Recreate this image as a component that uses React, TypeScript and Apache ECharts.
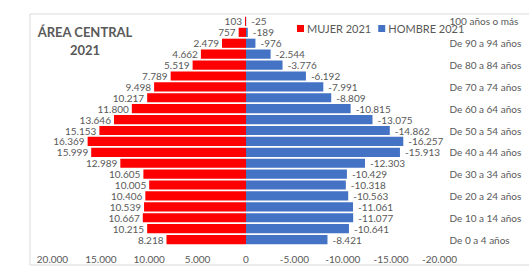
import React, { useEffect, useRef } from "react";
import * as echarts from "echarts";

const categories = [
  "100 años o más", "De 95 a 99 años", "De 90 a 94 años", "De 85 a 89 años",
  "De 80 a 84 años", "De 75 a 79 años", "De 70 a 74 años", "De 65 a 69 años",
  "De 60 a 64 años", "De 55 a 59 años", "De 50 a 54 años", "De 45 a 49 años",
  "De 40 a 44 años", "De 35 a 39 años", "De 30 a 34 años", "De 25 a 29 años",
  "De 20 a 24 años", "De 15 a 19 años", "De 10 a 14 años", "De 5 a 9 años",
  "De 0 a 4 años",
];
const mujer2021 = [
  103, 757, 2479, 4662, 5519, 7789, 9498, 10217, 11800, 13646, 15153, 16369,
  15999, 12989, 10605, 10005, 10406, 10539, 10667, 10215, 8218,
];
const hombre2021 = [
  -25, -189, -976, -2544, -3776, -6192, -7991, -8809, -10815, -13075, -14862,
  -16257, -15913, -12303, -10429, -10318, -10563, -11061, -11077, -10641, -8421,
];
const xTicks = { min: -20000, max: 20000, interval: 5000 };

const fmt = (v: number) => {
  const neg = v < 0;
  const s = Math.abs(Math.round(v)).toString().replace(/\B(?=(\d{3})+(?!\d))/g, ".");
  return (neg ? "-" : "") + s;
};

const FONT = "Lato, 'Open Sans', sans-serif";
const GRAY = "#595959";

export default function App() {
  const ref = useRef<HTMLDivElement>(null);
  useEffect(() => {
    if (!ref.current) return;
    const chart = echarts.init(ref.current, null, { renderer: "svg" });
    chart.setOption({
      animation: false,
      backgroundColor: "#ffffff",
      textStyle: { fontFamily: FONT },
      graphic: [
        {
          type: "rect",
          shape: { x: 30, y: 14, width: 520, height: 251 },
          style: { fill: "none", stroke: "#d9d9d9", lineWidth: 1 },
          silent: true,
          z: -1,
        },
        {
          type: "text",
          x: 85,
          y: 32,
          style: {
            text: "ÁREA CENTRAL",
            fontFamily: FONT,
            fontSize: 13,
            fontWeight: "bold",
            fill: GRAY,
            align: "center",
            verticalAlign: "middle",
          },
        },
        {
          type: "text",
          x: 85,
          y: 50,
          style: {
            text: "2021",
            fontFamily: FONT,
            fontSize: 13,
            fontWeight: "bold",
            fill: GRAY,
            align: "center",
            verticalAlign: "middle",
          },
        },
      ],
      legend: {
        data: ["MUJER 2021", "HOMBRE 2021"],
        left: 297,
        top: 23,
        padding: 0,
        itemWidth: 7,
        itemHeight: 7,
        itemGap: 7,
        icon: "rect",
        textStyle: { fontFamily: FONT, fontSize: 11, color: GRAY, padding: [0, 0, 0, -2] },
      },
      grid: { left: 52.5, right: 89.5, top: 16, bottom: 25, containLabel: false },
      xAxis: {
        type: "value",
        inverse: true,
        min: xTicks.min,
        max: xTicks.max,
        interval: xTicks.interval,
        axisLine: { show: false },
        axisTick: { show: false },
        splitLine: { show: false },
        axisLabel: {
          formatter: (v: number) => fmt(v),
          fontFamily: FONT,
          fontSize: 10,
          color: GRAY,
          margin: 9,
        },
      },
      yAxis: {
        type: "category",
        data: categories,
        inverse: true,
        position: "right",
        axisLine: { show: false },
        axisTick: { show: false },
        axisLabel: {
          interval: 1,
          align: "left",
          margin: 10,
          fontFamily: FONT,
          fontSize: 10,
          color: GRAY,
        },
      },
      series: [
        {
          name: "MUJER 2021",
          type: "bar",
          data: mujer2021,
          barCategoryGap: "16%",
          barGap: "-100%",
          itemStyle: { color: "#FF0000" },
          label: {
            show: true,
            position: "left",
            distance: 3,
            formatter: (p: any) => fmt(p.value),
            fontFamily: FONT,
            fontSize: 10,
            color: GRAY,
          },
        },
        {
          name: "HOMBRE 2021",
          type: "bar",
          data: hombre2021,
          barCategoryGap: "16%",
          barGap: "-100%",
          itemStyle: { color: "#4472C4" },
          label: {
            show: true,
            position: "right",
            distance: 5,
            formatter: (p: any) => fmt(p.value),
            fontFamily: FONT,
            fontSize: 10,
            color: GRAY,
          },
        },
      ],
    });
    return () => chart.dispose();
  }, []);
  return (
    <div
      ref={ref}
      style={{ position: "absolute", left: 0, top: 0, width: 529, height: 270 }}
    />
  );
}
